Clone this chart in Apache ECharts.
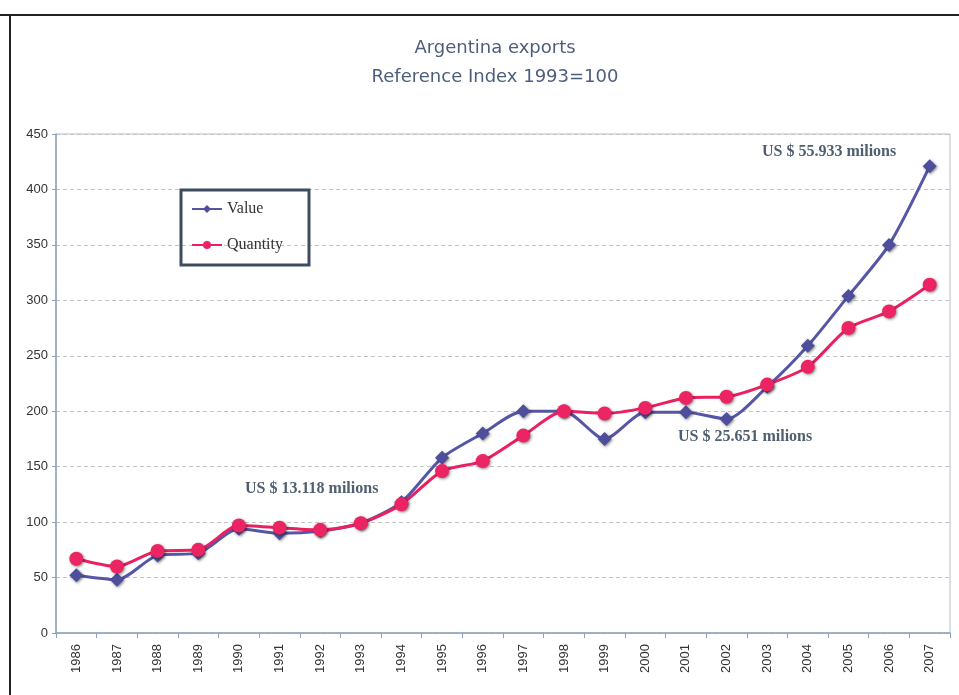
<!DOCTYPE html>
<html>
<head>
<meta charset="utf-8">
<title>Argentina exports</title>
<script src="https://cdn.jsdelivr.net/npm/echarts@6/dist/echarts.min.js"></script>
<style>
    html,body{margin:0;padding:0;background:#fff;}
    #chart{width:959px;height:695px;}
</style>
</head>
<body>
<div id="chart"></div>
<script>
// 年份
var years = ['1986','1987','1988','1989','1990','1991','1992','1993','1994','1995','1996',
    '1997','1998','1999','2000','2001','2002','2003','2004','2005','2006','2007'];
// 出口额指数 (1993=100)
var valueIdx = [52, 48, 70, 72, 94, 90, 92, 99, 118, 158, 180,
    200, 200, 175, 199, 199, 193, 222, 259, 304, 350, 421];
// 出口量指数
var quantityIdx = [67, 60, 74, 75, 97, 95, 93, 99, 116, 146, 155,
    178, 200, 198, 203, 212, 213, 224, 240, 275, 290, 314];
var yTicks = [0, 450, 50];

var myChart = echarts.init(document.getElementById('chart'));
var serif = '"Liberation Serif","DejaVu Serif",serif';

var option = {
    backgroundColor: '#fff',
    animation: false,
    title: {
        text: 'Argentina exports\nReference Index 1993=100',
        left: 490,
        textAlign: 'center',
        top: 29,
        textStyle: {
            fontFamily: '"DejaVu Sans",Verdana,sans-serif',
            fontSize: 18,
            fontWeight: 'normal',
            color: '#4d5e7c',
            lineHeight: 29
        }
    },
    legend: {
        orient: 'vertical',
        left: 181,
        top: 190,
        width: 126,
        padding: [11, 26, 12, 10],
        itemGap: 20,
        itemWidth: 30,
        itemHeight: 10,
        borderColor: '#3d4d5d',
        borderWidth: 3,
        textStyle: {fontFamily: serif, fontSize: 16, color: '#333'},
        data: ['Value', 'Quantity']
    },
    grid: {
        left: 56,
        right: 9,
        top: 134,
        bottom: 62,
        show: true,
        borderColor: '#b4c0cc',
        borderWidth: 1
    },
    xAxis: {
        type: 'category',
        data: years,
        boundaryGap: true,
        axisLine: {lineStyle: {color: '#8da2b8', width: 1.5}},
        axisTick: {show: true, length: 5, lineStyle: {color: '#8da2b8'}},
        axisLabel: {
            rotate: 90,
            fontFamily: '"Liberation Sans",Arial,sans-serif',
            fontSize: 13,
            color: '#333',
            margin: 11
        }
    },
    yAxis: {
        type: 'value',
        min: yTicks[0],
        max: yTicks[1],
        interval: yTicks[2],
        axisLine: {show: true, lineStyle: {color: '#8da2b8', width: 1.5}},
        axisTick: {show: true, length: 4, lineStyle: {color: '#8da2b8'}},
        axisLabel: {
            fontFamily: '"Liberation Sans Narrow","Liberation Sans",Arial,sans-serif',
            fontSize: 13,
            color: '#333',
            margin: 8
        },
        splitLine: {lineStyle: {type: [4, 3], color: '#c4c4c4'}}
    },
    series: [
        {
            name: 'Value',
            type: 'line',
            data: valueIdx,
            smooth: 0.25,
            symbol: 'diamond',
            symbolSize: 14,
            lineStyle: {color: '#5656a6', width: 3},
            itemStyle: {
                color: '#4e4e9c',
                shadowBlur: 3,
                shadowColor: 'rgba(0,0,0,0.5)',
                shadowOffsetX: 1,
                shadowOffsetY: 1
            },
            z: 2
        },
        {
            name: 'Quantity',
            type: 'line',
            data: quantityIdx,
            smooth: 0.25,
            symbol: 'circle',
            symbolSize: 14,
            lineStyle: {color: '#ea2060', width: 3},
            itemStyle: {
                color: '#ec2464',
                shadowBlur: 3,
                shadowColor: 'rgba(0,0,0,0.5)',
                shadowOffsetX: 1,
                shadowOffsetY: 1
            },
            z: 3
        }
    ],
    graphic: [
        // 外框
        {type: 'line', shape: {x1: 0, y1: 15, x2: 959, y2: 15}, style: {stroke: '#222', lineWidth: 2}},
        {type: 'line', shape: {x1: 10, y1: 15, x2: 10, y2: 695}, style: {stroke: '#222', lineWidth: 2}},
        // 注释文字
        {type: 'text', left: 245, top: 481, style: {text: 'US $ 13.118 milions', font: 'bold 16px ' + serif, fill: '#4f5f6f'}},
        {type: 'text', left: 678, top: 429, style: {text: 'US $ 25.651 milions', font: 'bold 16px ' + serif, fill: '#4f5f6f'}},
        {type: 'text', left: 762, top: 144, style: {text: 'US $ 55.933 milions', font: 'bold 16px ' + serif, fill: '#4f5f6f'}}
    ]
};
myChart.setOption(option);
</script>
</body>
</html>
